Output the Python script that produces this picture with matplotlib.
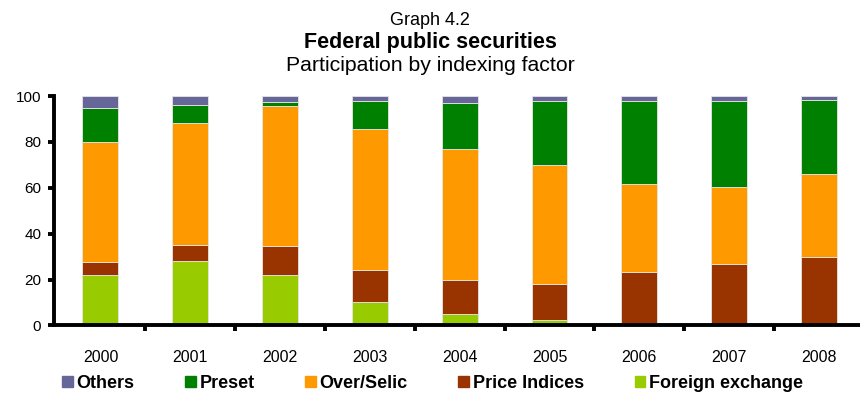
import numpy as np
import matplotlib
matplotlib.use("Agg")
from matplotlib import pyplot as plt
from matplotlib.patches import Patch

plt.rcParams['font.family'] = ['Liberation Sans', 'DejaVu Sans']

years = ['2000', '2001', '2002', '2003', '2004', '2005', '2006', '2007', '2008']
foreign_exchange = [21.8, 28.0, 22.1, 10.4, 4.8, 2.2, 1.0, 0.3, 0.3]
price_indices = [6.0, 7.0, 12.6, 13.6, 14.8, 15.7, 22.4, 26.5, 29.6]
over_selic = [52.4, 53.3, 60.9, 61.5, 57.4, 51.9, 38.1, 33.5, 36.0]
preset = [14.7, 7.8, 1.9, 12.5, 20.1, 27.9, 36.2, 37.4, 32.5]
others = [5.1, 3.9, 2.5, 2.0, 2.9, 2.3, 2.3, 2.3, 1.6]

series = [
    ('Foreign exchange', foreign_exchange, '#99CC00'),
    ('Price Indices', price_indices, '#993300'),
    ('Over/Selic', over_selic, '#FF9900'),
    ('Preset', preset, '#008000'),
    ('Others', others, '#666699'),
]

fig = plt.figure(figsize=(8.6, 3.94), dpi=100)
ax = fig.add_axes([0.0625, 0.174, 0.942, 0.582])

x = np.arange(len(years))
bottom = np.zeros(len(years))
for name, vals, col in series:
    ax.bar(x, vals, width=0.4, bottom=bottom, color=col,
           edgecolor='#e6e6e6', linewidth=0.6)
    bottom += np.array(vals)

ax.set_xlim(-0.52, 8.5)
ax.set_ylim(0, 100)
ax.set_yticks(range(0, 101, 20))
ax.set_xticks(x)
ax.set_xticklabels(years)
ax.set_xticks(np.arange(0.5, 8.5, 1), minor=True)

for s in ['top', 'right']:
    ax.spines[s].set_visible(False)
for s in ['left', 'bottom']:
    ax.spines[s].set_linewidth(2.8)

ax.tick_params(axis='y', direction='out', length=4, width=2.8, labelsize=11, pad=5)
ax.tick_params(axis='x', which='major', length=0, labelsize=11.5, pad=18)
ax.tick_params(axis='x', which='minor', direction='out', length=4, width=2.8)

fig.text(0.5, 0.949, 'Graph 4.2', ha='center', va='center', fontsize=13)
fig.text(0.5, 0.893, 'Federal public securities', ha='center', va='center',
         fontsize=15.5, fontweight='bold')
fig.text(0.5, 0.833, 'Participation by indexing factor', ha='center', va='center',
         fontsize=15.3)

# legend sits right at the bottom edge, as in the original
handles = [Patch(color=col, label=name) for name, vals, col in reversed(series)]
fig.legend(handles=handles, loc='center', bbox_to_anchor=(0.503, 0.027), ncol=5,
           frameon=False, prop={'weight': 'bold', 'size': 13},
           handlelength=0.6, handleheight=0.6, handletextpad=0.2,
           columnspacing=2.8)

fig.savefig('out.png', dpi=100)
